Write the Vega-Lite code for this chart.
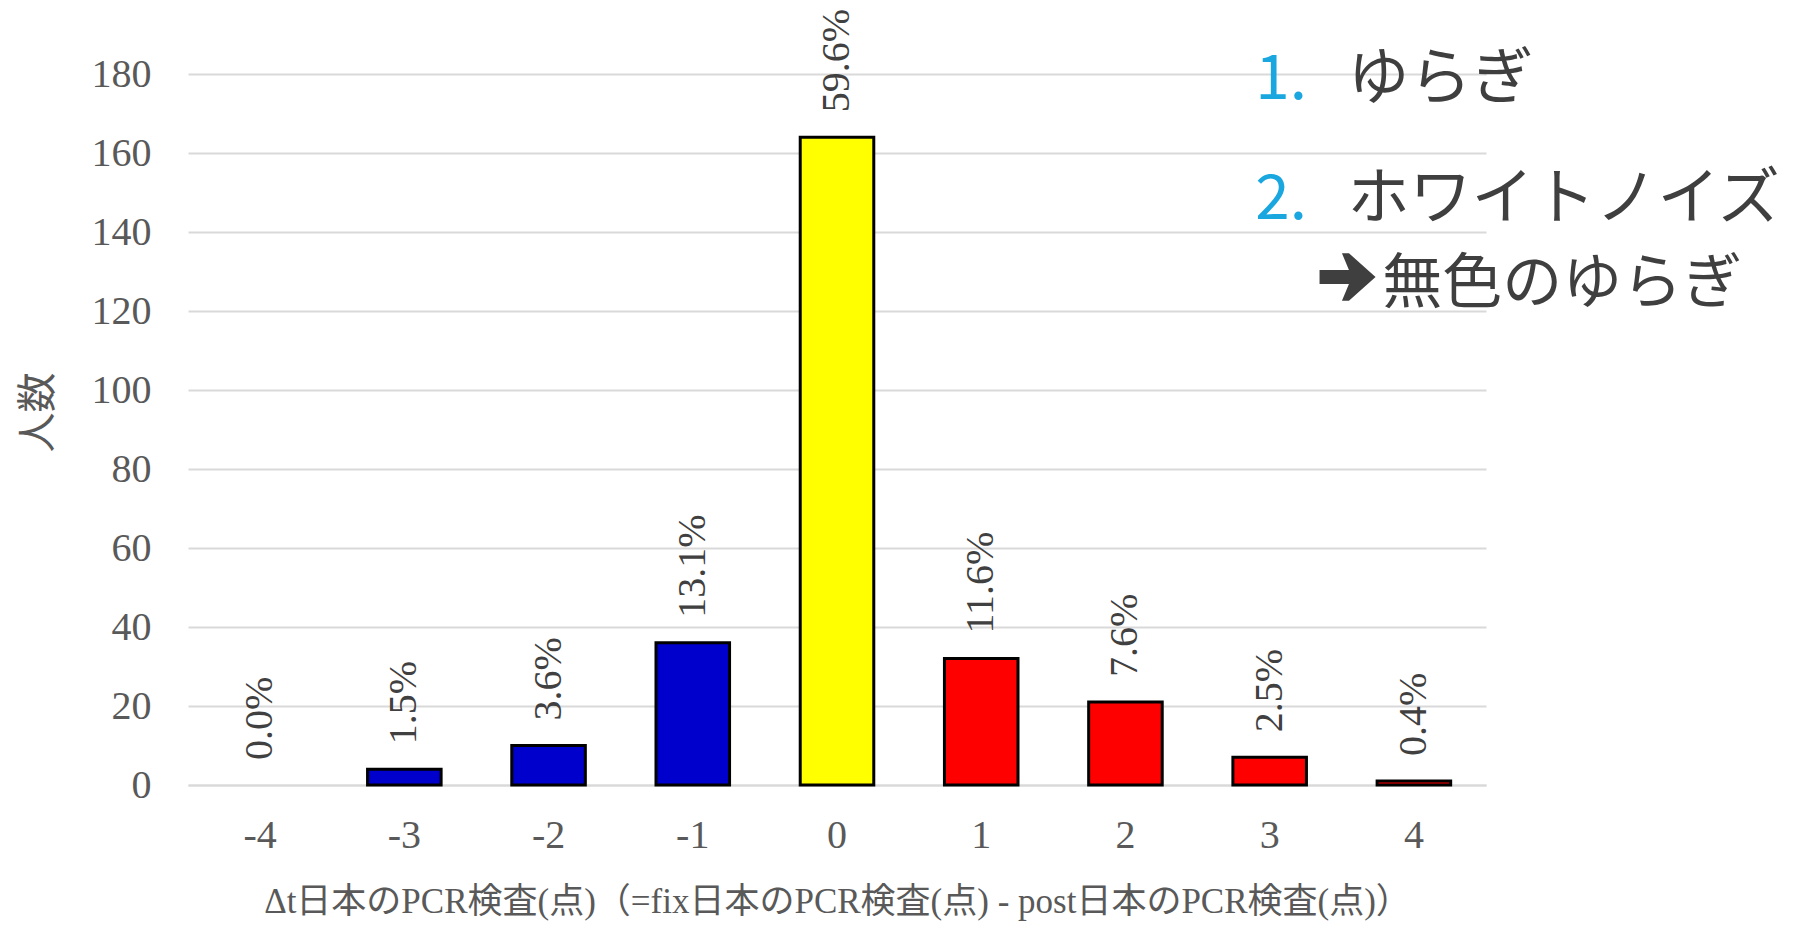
{
  "$schema": "https://vega.github.io/schema/vega-lite/v6.json",
  "width": 1298,
  "height": 711,
  "autosize": {"type": "none"},
  "padding": {"left": 188, "top": 74, "right": 315, "bottom": 140},
  "background": "white",
  "config": {
    "view": {"stroke": null},
    "axis": {"titleFontWeight": "normal"}
  },
  "datasets": {
    "bars": [
      {"d": -4, "n": 0, "pct": "0.0%", "sign": "neg"},
      {"d": -3, "n": 4, "pct": "1.5%", "sign": "neg"},
      {"d": -2, "n": 10, "pct": "3.6%", "sign": "neg"},
      {"d": -1, "n": 36, "pct": "13.1%", "sign": "neg"},
      {"d": 0, "n": 164, "pct": "59.6%", "sign": "zero"},
      {"d": 1, "n": 32, "pct": "11.6%", "sign": "pos"},
      {"d": 2, "n": 21, "pct": "7.6%", "sign": "pos"},
      {"d": 3, "n": 7, "pct": "2.5%", "sign": "pos"},
      {"d": 4, "n": 1, "pct": "0.4%", "sign": "pos"}
    ],
    "nums": [
      {"px": 2.9, "py": 173.7, "t": "1."},
      {"px": 2.9, "py": 143.3, "t": "2."}
    ],
    "lines": [
      {"px": 3.54, "py": 173.7, "t": "ゆらぎ"},
      {"px": 3.54, "py": 143.3, "t": "ホワイトノイズ"}
    ],
    "arrow": [
      {"px": 3.54, "py": 128.6}
    ],
    "sub": [
      {"px": 3.78, "py": 122.0, "t": "無色のゆらぎ"}
    ]
  },
  "layer": [
    {
      "data": {"name": "bars"},
      "layer": [
        {
          "mark": {"type": "bar", "stroke": "black", "strokeWidth": 3},
          "encoding": {
            "x": {
              "field": "d", "type": "ordinal",
              "scale": {"paddingInner": 0.49, "paddingOuter": 0.245},
              "axis": {
                "title": "Δt日本のPCR検査(点)（=fix日本のPCR検査(点) - post日本のPCR検査(点)）",
                "titleFont": "Liberation Serif, Noto Sans CJK JP",
                "titleFontSize": 35,
                "titleColor": "#595959",
                "titlePadding": 29,
                "labelAngle": 0,
                "labelFont": "Liberation Serif",
                "labelFontSize": 40,
                "labelColor": "#595959",
                "labelPadding": 30,
                "ticks": false,
                "domainColor": "#D9D9D9",
                "domainWidth": 2
              }
            },
            "y": {
              "field": "n", "type": "quantitative",
              "scale": {"domain": [0, 180], "nice": false},
              "axis": {
                "title": "人数",
                "titleFont": "Noto Sans CJK JP",
                "titleFontSize": 40,
                "titleColor": "#595959",
                "titlePadding": 33,
                "titleY": 338,
                "values": [0, 20, 40, 60, 80, 100, 120, 140, 160, 180],
                "labelFont": "Liberation Serif",
                "labelFontSize": 40,
                "labelColor": "#595959",
                "labelPadding": 37,
                "ticks": false,
                "domain": false,
                "gridColor": "#D9D9D9",
                "gridWidth": 2
              }
            },
            "color": {
              "field": "sign", "type": "nominal",
              "scale": {"domain": ["neg", "zero", "pos"], "range": ["#0000CC", "#FFFF00", "#FF0000"]},
              "legend": null
            },
            "strokeOpacity": {"condition": {"test": "datum.n > 0", "value": 1}, "value": 0}
          }
        },
        {
          "mark": {"type": "text", "angle": 270, "align": "left", "baseline": "middle", "dx": 25, "font": "Liberation Serif", "fontSize": 40, "color": "#404040"},
          "encoding": {
            "x": {"field": "d", "type": "ordinal", "scale": {"paddingInner": 0.49, "paddingOuter": 0.245}},
            "y": {"field": "n", "type": "quantitative"},
            "text": {"field": "pct"}
          }
        }
      ]
    },
    {
      "data": {"name": "nums"},
      "mark": {"type": "text", "align": "left", "baseline": "alphabetic", "font": "Noto Sans CJK JP", "fontSize": 62, "color": "#1AA7E0", "clip": false},
      "encoding": {
        "x": {"field": "px", "type": "quantitative", "scale": {"domain": [-4.5, 4.5], "nice": false, "zero": false}, "axis": null},
        "y": {"field": "py", "type": "quantitative", "scale": {"domain": [0, 180], "nice": false}, "axis": null},
        "text": {"field": "t"}
      }
    },
    {
      "data": {"name": "lines"},
      "mark": {"type": "text", "align": "left", "baseline": "alphabetic", "font": "Noto Sans CJK JP", "fontSize": 62, "color": "#3F3F3F", "clip": false},
      "encoding": {
        "x": {"field": "px", "type": "quantitative", "scale": {"domain": [-4.5, 4.5], "nice": false, "zero": false}, "axis": null},
        "y": {"field": "py", "type": "quantitative", "scale": {"domain": [0, 180], "nice": false}, "axis": null},
        "text": {"field": "t"}
      }
    },
    {
      "data": {"name": "arrow"},
      "mark": {"type": "point", "filled": true, "opacity": 1, "color": "#3F3F3F", "size": 3136, "clip": false,
               "shape": "M-1,-0.25 L0.05,-0.25 L-0.2,-0.85 L0.05,-0.85 L1,0 L0.05,0.85 L-0.2,0.85 L0.05,0.25 L-1,0.25 Z"},
      "encoding": {
        "x": {"field": "px", "type": "quantitative", "scale": {"domain": [-4.5, 4.5], "nice": false, "zero": false}, "axis": null},
        "y": {"field": "py", "type": "quantitative", "scale": {"domain": [0, 180], "nice": false}, "axis": null}
      }
    },
    {
      "data": {"name": "sub"},
      "mark": {"type": "text", "align": "left", "baseline": "alphabetic", "font": "Noto Sans CJK JP", "fontSize": 60, "color": "#3F3F3F", "clip": false},
      "encoding": {
        "x": {"field": "px", "type": "quantitative", "scale": {"domain": [-4.5, 4.5], "nice": false, "zero": false}, "axis": null},
        "y": {"field": "py", "type": "quantitative", "scale": {"domain": [0, 180], "nice": false}, "axis": null},
        "text": {"field": "t"}
      }
    }
  ],
  "resolve": {"scale": {"x": "independent", "y": "independent"}}
}
